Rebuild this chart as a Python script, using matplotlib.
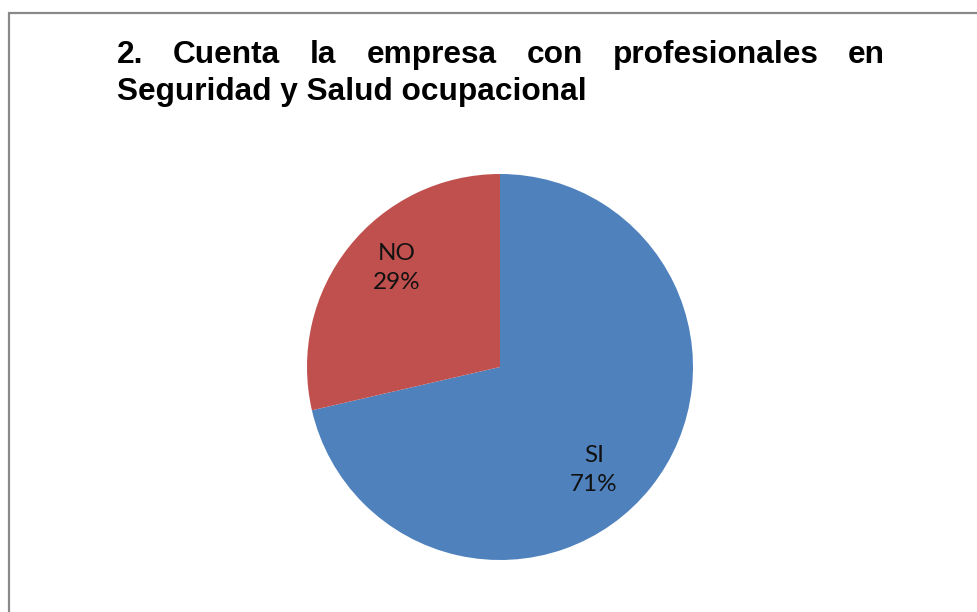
import matplotlib
matplotlib.use('Agg')
import matplotlib.pyplot as plt
from matplotlib.patches import Rectangle

categories = ['SI', 'NO']
values = [71.4, 28.6]
colors = ['#4F81BD', '#C0504D']
title_line1 = '2. Cuenta la empresa con profesionales en'
title_line2 = 'Seguridad y Salud ocupacional'

W, H = 978, 612
fig = plt.figure(figsize=(W / 100, H / 100), dpi=100)
fig.patch.set_facecolor('white')

# chart frame (cropped at right and bottom like the reference)
fig.patches.append(Rectangle((9 / W, -0.1), 1.2, 1 - 13 / H + 0.1, transform=fig.transFigure,
                             fill=False, edgecolor='#898989', linewidth=1.6))

# pie area
cx, cy, r = 500, 367, 193
ax = fig.add_axes([(cx - r) / W, 1 - (cy + r) / H, 2 * r / W, 2 * r / H])
ax.pie(values, colors=colors, startangle=90, counterclock=False, radius=1,
       wedgeprops=dict(linewidth=0))
ax.set_xlim(-1, 1)
ax.set_ylim(-1, 1)
ax.set_aspect('equal')
ax.axis('off')

label_pos = [(0.487, -0.534), (-0.534, 0.513)]
for cat, v, (lx, ly) in zip(categories, values, label_pos):
    ax.text(lx, ly, f'{cat}\n{v:.0f}%', ha='center', va='center', fontsize=17.5,
            family='Lato', color='#111111', linespacing=1.45)

# justified title
tfont = dict(family='Liberation Sans', weight='bold', fontsize=22.8, color='black')
x0, x1 = 117, 885
renderer = fig.canvas.get_renderer()
words = title_line1.split()
texts = [fig.text(0, 0, w_, **tfont) for w_ in words]
widths = [t.get_window_extent(renderer).width for t in texts]
gap = (x1 - x0 - sum(widths)) / (len(words) - 1)
x = x0
for t, wd in zip(texts, widths):
    t.set_position((x / W, 1 - 63 / H))
    t.set_va('baseline')
    x += wd + gap
fig.text(x0 / W, 1 - 100 / H, title_line2, va='baseline', **tfont)

fig.savefig('out.png', dpi=100)
